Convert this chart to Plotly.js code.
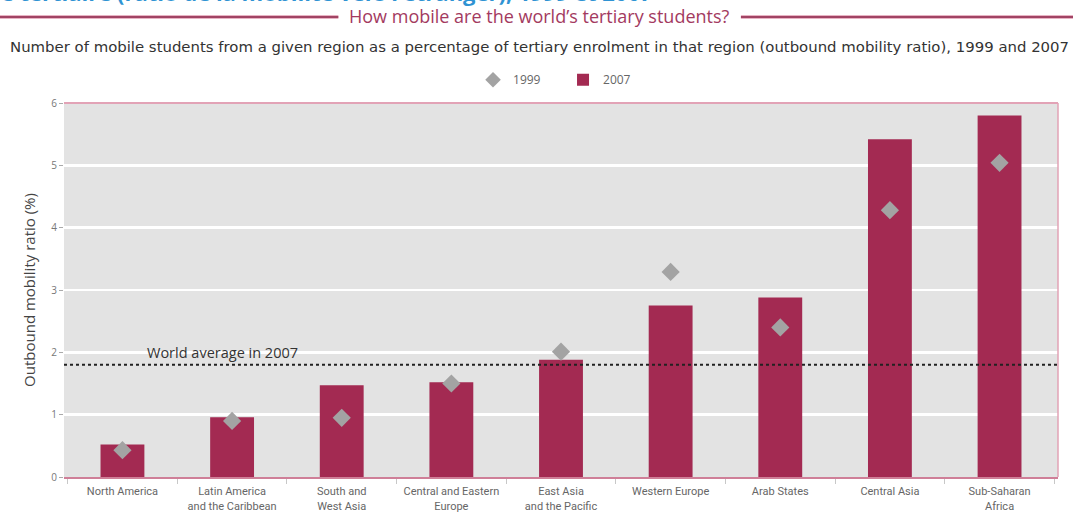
<!DOCTYPE html>
<html>
<head>
<meta charset="utf-8">
<script src="https://cdn.plot.ly/plotly-3.0.1.min.js"></script>
<style>
  html, body { margin: 0; padding: 0; background: #fff; }
  #chart { width: 1073px; height: 512px; }
</style>
</head>
<body>
<div id="chart"></div>
<script>
const regions = [
  "North America",
  "Latin America<br>and the Caribbean",
  "South and<br>West Asia",
  "Central and Eastern<br>Europe",
  "East Asia<br>and the Pacific",
  "Western Europe",
  "Arab States",
  "Central Asia",
  "Sub-Saharan<br>Africa"
];
const ratio1999 = [0.43, 0.90, 0.95, 1.50, 2.01, 3.29, 2.40, 4.28, 5.04];
const ratio2007 = [0.52, 0.96, 1.47, 1.52, 1.88, 2.75, 2.88, 5.42, 5.80];
const worldAverage2007 = 1.8;
const yTicks = [0, 1, 2, 3, 4, 5, 6];

const crimson = '#a32a52';
const diamondGrey = '#a3a3a3';
const labelFont = 'Open Sans, Liberation Sans, sans-serif';

const traces = [
  {
    type: 'scatter', mode: 'markers', name: '1999',
    x: regions, y: ratio1999,
    marker: { symbol: 'diamond', size: 14, color: diamondGrey },
    cliponaxis: false
  },
  {
    type: 'bar', name: '2007',
    x: regions, y: ratio2007,
    marker: { color: crimson, line: { width: 0 } }
  }
];

const layout = {
  width: 1073, height: 512,
  margin: { l: 64, r: 15, t: 103, b: 35, pad: 0 },
  paper_bgcolor: '#ffffff',
  plot_bgcolor: '#e3e3e3',
  bargap: 0.6,
  showlegend: true,
  legend: {
    orientation: 'h', x: 0.4115, xanchor: 'left', y: 1.062, yanchor: 'middle',
    font: { family: labelFont, size: 12, color: '#666' },
    itemsizing: 'constant', entrywidth: 45,
    traceorder: 'normal', bgcolor: 'rgba(0,0,0,0)'
  },
  xaxis: {
    type: 'category',
    showgrid: false, zeroline: false,
    showline: true, linecolor: '#cf7f98', linewidth: 2,
    ticks: 'outside', tickson: 'boundaries', ticklen: 5, tickcolor: '#c8c8c8', tickwidth: 1,
    tickangle: 0, automargin: false, ticklabelstandoff: 3,
    tickfont: { family: 'Roboto, ' + labelFont, size: 11, color: '#666' },
    fixedrange: true
  },
  yaxis: {
    range: [0, 6], tickvals: yTicks, ticktext: yTicks.map(String),
    showgrid: true, gridcolor: '#ffffff', gridwidth: 2.5,
    zeroline: false, showline: false,
    ticks: 'outside', ticklen: 4, tickcolor: '#aaa',
    tickfont: { family: labelFont, size: 10, color: '#777' },
    title: { text: 'Outbound mobility ratio (%)', standoff: 12,
             font: { family: labelFont, size: 15, color: '#444' } },
    fixedrange: true
  },
  shapes: [
    { type: 'line', xref: 'paper', yref: 'y', x0: 0, x1: 1, y0: worldAverage2007, y1: worldAverage2007,
      line: { color: '#222', width: 2, dash: 'dot' } },
    { type: 'line', xref: 'paper', yref: 'paper', x0: 0, x1: 1, y0: 1, y1: 1,
      line: { color: '#e2a3b6', width: 2 } },
    { type: 'line', xref: 'paper', yref: 'paper', x0: 1, x1: 1, y0: 0, y1: 1,
      line: { color: '#e2a3b6', width: 1.5 } },
    // header rules
    { type: 'line', xref: 'paper', yref: 'paper', x0: -0.07, x1: 0.276, y0: 1.23, y1: 1.23,
      line: { color: '#e8b3c3', width: 4 } },
    { type: 'line', xref: 'paper', yref: 'paper', x0: -0.07, x1: 0.276, y0: 1.23, y1: 1.23,
      line: { color: '#8a1f44', width: 1.5 } },
    { type: 'line', xref: 'paper', yref: 'paper', x0: 0.681, x1: 1.02, y0: 1.23, y1: 1.23,
      line: { color: '#e8b3c3', width: 4 } },
    { type: 'line', xref: 'paper', yref: 'paper', x0: 0.681, x1: 1.02, y0: 1.23, y1: 1.23,
      line: { color: '#8a1f44', width: 1.5 } }
  ],
  annotations: [
    { xref: 'paper', yref: 'paper', x: -0.072, y: 1.296, xanchor: 'left', yanchor: 'middle',
      text: '<b>le tertiaire (ratio de la mobilité vers l’étranger), 1999 et 2007</b>', showarrow: false,
      font: { family: labelFont, size: 22, color: '#2f93d3' } },
    { xref: 'paper', yref: 'paper', x: 0.4785, y: 1.232, xanchor: 'center', yanchor: 'middle',
      text: 'How mobile are the world’s tertiary students?', showarrow: false,
      font: { family: labelFont, size: 18, color: '#a33a60' } },
    { xref: 'paper', yref: 'paper', x: 0.4785, y: 1.151, xanchor: 'center', yanchor: 'middle',
      text: 'Number of mobile students from a given region as a percentage of tertiary enrolment in that region (outbound mobility ratio), 1999 and 2007',
      showarrow: false,
      font: { family: 'DejaVu Sans, ' + labelFont, size: 14.9, color: '#333' } },
    { xref: 'paper', yref: 'y', x: 0.081, y: worldAverage2007, xanchor: 'left', yanchor: 'bottom', yshift: 1,
      text: 'World average in 2007', showarrow: false,
      font: { family: labelFont, size: 14.5, color: '#333' } }
  ]
};

Plotly.newPlot('chart', traces, layout, { displayModeBar: false, staticPlot: true });
</script>
</body>
</html>
